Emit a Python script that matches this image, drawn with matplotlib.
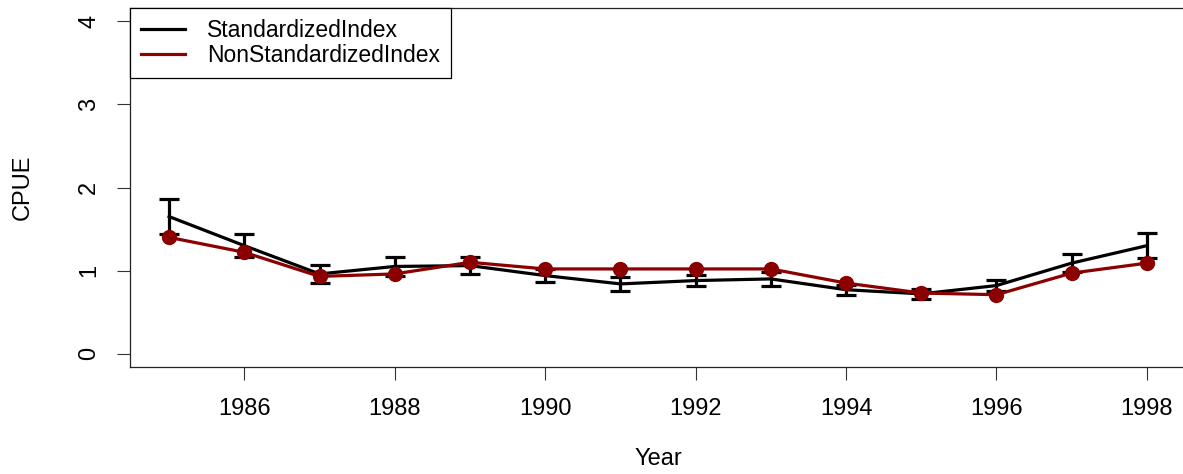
import numpy as np
import matplotlib.pyplot as plt
from matplotlib.lines import Line2D

plt.rcParams['font.family'] = ['Liberation Sans', 'DejaVu Sans']

# CPUE indices
years = np.arange(1985, 1999)
std_index = [1.65, 1.30, 0.96, 1.05, 1.06, 0.94, 0.84, 0.88, 0.90, 0.77, 0.72, 0.82, 1.09, 1.30]
std_err = [0.21, 0.14, 0.11, 0.11, 0.10, 0.08, 0.08, 0.07, 0.08, 0.06, 0.06, 0.07, 0.11, 0.15]
nonstd_index = [1.40, 1.22, 0.93, 0.96, 1.10, 1.02, 1.02, 1.02, 1.02, 0.85, 0.73, 0.71, 0.97, 1.09]

xticks = np.arange(1986, 1999, 2)
yticks = [0, 1, 2, 3, 4]
red = '#8b0000'

W, H = 1183, 474
fig = plt.figure(figsize=(W / 100, H / 100), dpi=100)
ax = fig.add_axes([130 / W, (H - 367) / H, (1186 - 130) / W, (367 - 8) / H])

ax.errorbar(years, std_index, yerr=std_err, color='black', lw=2.3,
            elinewidth=2.3, capsize=7.5, capthick=2.3, zorder=2)
ax.plot(years, nonstd_index, color=red, lw=2.3, marker='o', ms=10, zorder=3)

ax.set_xlim(1984.48, 1998.52)
ax.set_ylim(-0.16, 4.16)
ax.set_xticks(xticks)
ax.set_yticks(yticks)
ax.tick_params(axis='both', labelsize=17, length=9.5, width=0.8, color='#333333')
ax.tick_params(axis='x', pad=13)
ax.tick_params(axis='y', pad=12)
for lbl in ax.get_yticklabels():
    lbl.set_rotation(90)
    lbl.set_va('center')
for s in ax.spines.values():
    s.set_linewidth(0.9)
    s.set_color('#222222')

ax.set_xlabel('Year', fontsize=17, labelpad=20)
ax.set_ylabel('CPUE', fontsize=17, labelpad=32)

handles = [Line2D([], [], color='black', lw=2.3),
           Line2D([], [], color=red, lw=2.3)]
leg = ax.legend(handles, ['StandardizedIndex', 'NonStandardizedIndex'],
                loc='upper left', bbox_to_anchor=(0, 1), borderaxespad=0,
                fontsize=16.5, frameon=True, fancybox=False, edgecolor='black',
                framealpha=1, handlelength=1.9, handletextpad=0.95,
                labelspacing=0.05, borderpad=0.5)
leg.get_frame().set_linewidth(0.9)

fig.savefig('out.png', dpi=100)
